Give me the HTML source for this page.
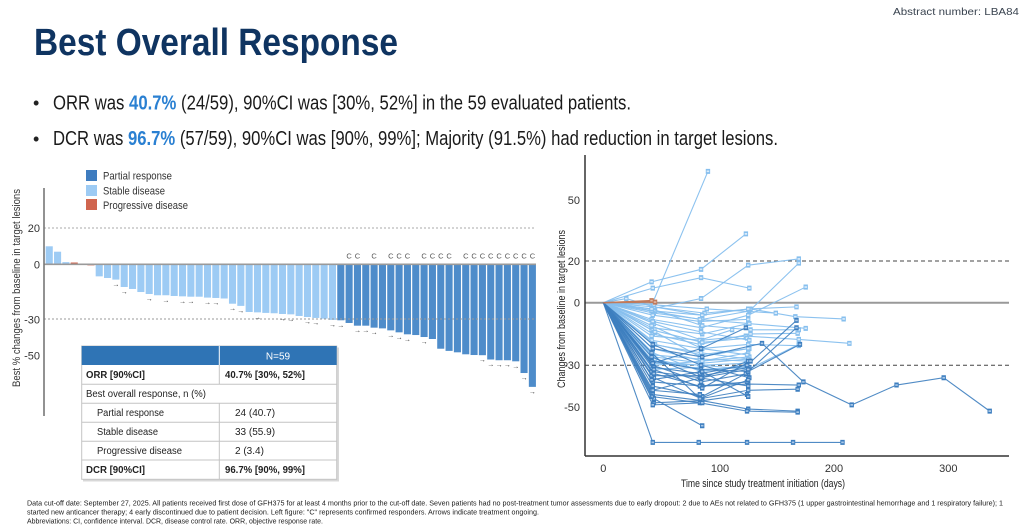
<!DOCTYPE html>
<html><head><meta charset="utf-8"><style>
body{margin:0;background:#fff}
svg{display:block}
text{font-family:"Liberation Sans",Arial,sans-serif}
</style></head><body>
<svg width="1024" height="531" viewBox="0 0 1024 531" xmlns="http://www.w3.org/2000/svg">
<defs>
<marker id="ml" markerUnits="userSpaceOnUse" markerWidth="1" markerHeight="1" refX="0" refY="0" overflow="visible"><rect x="-1.5" y="-0.8" width="3" height="1.6" fill="#dcecfb" stroke="#86bfee" stroke-width="0.8" vector-effect="non-scaling-stroke"/></marker>
<marker id="md" markerUnits="userSpaceOnUse" markerWidth="1" markerHeight="1" refX="0" refY="0" overflow="visible"><rect x="-1.5" y="-0.8" width="3" height="1.6" fill="#a9c8e8" stroke="#3d7ebf" stroke-width="0.8" vector-effect="non-scaling-stroke"/></marker>
<marker id="mo" markerUnits="userSpaceOnUse" markerWidth="1" markerHeight="1" refX="0" refY="0" overflow="visible"><rect x="-1.5" y="-0.8" width="3" height="1.6" fill="#e0b8a6" stroke="#c07a5a" stroke-width="0.8" vector-effect="non-scaling-stroke"/></marker>
</defs>

<!-- Header -->
<text x="1019" y="15" font-size="10.5" fill="#3a4450" text-anchor="end" textLength="126" lengthAdjust="spacingAndGlyphs">Abstract number: LBA84</text>
<text x="34" y="55" font-size="38" font-weight="bold" fill="#0f3461" textLength="364" lengthAdjust="spacingAndGlyphs">Best Overall Response</text>

<text x="33" y="109" font-size="18" fill="#222">•</text>
<text x="53" y="109.3" font-size="20" fill="#1a1a1a" textLength="578" lengthAdjust="spacingAndGlyphs">ORR was <tspan fill="#2a80d2" font-weight="bold">40.7%</tspan> (24/59), 90%CI was [30%, 52%] in the 59 evaluated patients.</text>
<text x="33" y="145" font-size="18" fill="#222">•</text>
<text x="53" y="145" font-size="20" fill="#1a1a1a" textLength="725" lengthAdjust="spacingAndGlyphs">DCR was <tspan fill="#2a80d2" font-weight="bold">96.7%</tspan> (57/59), 90%CI was [90%, 99%]; Majority (91.5%) had reduction in target lesions.</text>

<!-- ============ LEFT WATERFALL ============ -->
<!-- legend -->
<rect x="86" y="170" width="11" height="11" fill="#3e7cbf"/>
<rect x="86" y="185" width="11" height="11" fill="#9dcbf4"/>
<rect x="86" y="199" width="11" height="11" fill="#d0654f"/>
<text x="103" y="179.5" font-size="11" fill="#333" textLength="69" lengthAdjust="spacingAndGlyphs">Partial response</text>
<text x="103" y="194.5" font-size="11" fill="#333" textLength="62" lengthAdjust="spacingAndGlyphs">Stable disease</text>
<text x="103" y="209" font-size="11" fill="#333" textLength="85" lengthAdjust="spacingAndGlyphs">Progressive disease</text>

<!-- y title -->
<text transform="translate(20,288) rotate(-90)" font-size="11" fill="#333" text-anchor="middle" textLength="198" lengthAdjust="spacingAndGlyphs">Best % changes from baseline in target lesions</text>
<!-- y ticks -->
<g font-size="11" fill="#333" text-anchor="end">
<text x="40" y="232">20</text>
<text x="40" y="268.5">0</text>
<text x="40" y="323.5">-30</text>
<text x="40" y="359.5">-50</text>
</g>

<!-- bars -->
<g transform="translate(45.7,264.3) scale(8.33,-1.8)">
<g fill="#9dcbf4">
<rect x="0" y="0" width="0.85" height="10"/>
<rect x="1" y="0" width="0.85" height="7"/>
<rect x="2" y="0" width="0.85" height="1.2"/>
<rect x="6" y="-6.7" width="0.85" height="6.7"/>
<rect x="7" y="-7.6" width="0.85" height="7.6"/>
<rect x="8" y="-8.5" width="0.85" height="8.5"/>
<rect x="9" y="-12.6" width="0.85" height="12.6"/>
<rect x="10" y="-13.7" width="0.85" height="13.7"/>
<rect x="11" y="-15.4" width="0.85" height="15.4"/>
<rect x="12" y="-16.5" width="0.85" height="16.5"/>
<rect x="13" y="-17.2" width="0.85" height="17.2"/>
<rect x="14" y="-17.2" width="0.85" height="17.2"/>
<rect x="15" y="-17.6" width="0.85" height="17.6"/>
<rect x="16" y="-17.8" width="0.85" height="17.8"/>
<rect x="17" y="-18" width="0.85" height="18"/>
<rect x="18" y="-18" width="0.85" height="18"/>
<rect x="19" y="-18.5" width="0.85" height="18.5"/>
<rect x="20" y="-18.7" width="0.85" height="18.7"/>
<rect x="21" y="-19" width="0.85" height="19"/>
<rect x="22" y="-21.9" width="0.85" height="21.9"/>
<rect x="23" y="-23.1" width="0.85" height="23.1"/>
<rect x="24" y="-26.5" width="0.85" height="26.5"/>
<rect x="25" y="-26.7" width="0.85" height="26.7"/>
<rect x="26" y="-27" width="0.85" height="27"/>
<rect x="27" y="-27.2" width="0.85" height="27.2"/>
<rect x="28" y="-27.6" width="0.85" height="27.6"/>
<rect x="29" y="-27.8" width="0.85" height="27.8"/>
<rect x="30" y="-28.7" width="0.85" height="28.7"/>
<rect x="31" y="-29.3" width="0.85" height="29.3"/>
<rect x="32" y="-29.8" width="0.85" height="29.8"/>
<rect x="33" y="-30.2" width="0.85" height="30.2"/>
<rect x="34" y="-30.9" width="0.85" height="30.9"/>
</g>
<g fill="#d0654f">
<rect x="3" y="0" width="0.85" height="1"/>
<rect x="5" y="-0.6" width="0.85" height="0.6"/>
</g>
<g fill="#4e8cca">
<rect x="35" y="-31.1" width="0.85" height="31.1"/>
<rect x="36" y="-32.6" width="0.85" height="32.6"/>
<rect x="37" y="-34.1" width="0.85" height="34.1"/>
<rect x="38" y="-34.1" width="0.85" height="34.1"/>
<rect x="39" y="-35.2" width="0.85" height="35.2"/>
<rect x="40" y="-35.6" width="0.85" height="35.6"/>
<rect x="41" y="-36.7" width="0.85" height="36.7"/>
<rect x="42" y="-37.8" width="0.85" height="37.8"/>
<rect x="43" y="-38.9" width="0.85" height="38.9"/>
<rect x="44" y="-39.3" width="0.85" height="39.3"/>
<rect x="45" y="-40.4" width="0.85" height="40.4"/>
<rect x="46" y="-41.5" width="0.85" height="41.5"/>
<rect x="47" y="-46.9" width="0.85" height="46.9"/>
<rect x="48" y="-48.1" width="0.85" height="48.1"/>
<rect x="49" y="-48.9" width="0.85" height="48.9"/>
<rect x="50" y="-50" width="0.85" height="50"/>
<rect x="51" y="-50.4" width="0.85" height="50.4"/>
<rect x="52" y="-50.5" width="0.85" height="50.5"/>
<rect x="53" y="-52.9" width="0.85" height="52.9"/>
<rect x="54" y="-53.3" width="0.85" height="53.3"/>
<rect x="55" y="-53.3" width="0.85" height="53.3"/>
<rect x="56" y="-53.9" width="0.85" height="53.9"/>
<rect x="57" y="-60.4" width="0.85" height="60.4"/>
<rect x="58" y="-68.1" width="0.85" height="68.1"/>
</g>
</g>

<!-- reference lines -->
<line x1="44" y1="228" x2="536" y2="228" stroke="#aaa" stroke-width="1" stroke-dasharray="2,2"/>
<line x1="44" y1="319" x2="536" y2="319" stroke="#999" stroke-width="1" stroke-dasharray="2,2"/>
<line x1="44" y1="264.3" x2="536" y2="264.3" stroke="#9a9a9a" stroke-width="1.6"/>
<line x1="44" y1="188" x2="44" y2="416" stroke="#777" stroke-width="1.6"/>

<!-- C labels -->
<g font-size="7.5" fill="#555" text-anchor="middle">
<text x="349.1" y="258.5">C</text><text x="357.5" y="258.5">C</text>
<text x="374.1" y="258.5">C</text>
<text x="390.8" y="258.5">C</text><text x="399.1" y="258.5">C</text><text x="407.4" y="258.5">C</text>
<text x="424.1" y="258.5">C</text><text x="432.4" y="258.5">C</text><text x="440.8" y="258.5">C</text><text x="449.1" y="258.5">C</text>
<text x="465.8" y="258.5">C</text><text x="474.1" y="258.5">C</text><text x="482.4" y="258.5">C</text><text x="490.7" y="258.5">C</text><text x="499.1" y="258.5">C</text><text x="507.4" y="258.5">C</text><text x="515.7" y="258.5">C</text><text x="524.1" y="258.5">C</text><text x="532.4" y="258.5">C</text>
</g>

<!-- arrows -->
<g font-size="7" fill="#333" text-anchor="middle">
<text x="115.9" y="286.6">→</text>
<text x="124.2" y="294">→</text>
<text x="149.2" y="301">→</text>
<text x="165.9" y="302.3">→</text>
<text x="182.5" y="303.3">→</text>
<text x="190.9" y="303.7">→</text>
<text x="207.5" y="304.6">→</text>
<text x="215.9" y="305">→</text>
<text x="232.5" y="310.7">→</text>
<text x="240.8" y="312.9">→</text>
<text x="257.5" y="319.4">→</text>
<text x="282.5" y="321">→</text>
<text x="290.8" y="321.3">→</text>
<text x="307.5" y="324">→</text>
<text x="315.8" y="324.9">→</text>
<text x="332.5" y="326.9">→</text>
<text x="340.8" y="327.3">→</text>
<text x="357.5" y="332.7">→</text>
<text x="365.8" y="332.7">→</text>
<text x="374.1" y="334.7">→</text>
<text x="390.8" y="337.4">→</text>
<text x="399.1" y="339.3">→</text>
<text x="407.4" y="341.3">→</text>
<text x="424.1" y="344">→</text>
<text x="482.4" y="362.2">→</text>
<text x="490.7" y="366.5">→</text>
<text x="499.1" y="367.2">→</text>
<text x="507.4" y="367.2">→</text>
<text x="515.7" y="368.3">→</text>
<text x="524.1" y="380">→</text>
<text x="532.4" y="393.9">→</text>
</g>

<!-- table -->
<rect x="83" y="347.5" width="256" height="134" fill="#d8d8d8"/>
<rect x="81.7" y="346" width="255" height="133.3" fill="#fff" stroke="#c4c4c4" stroke-width="1"/>
<rect x="81.7" y="346" width="255" height="19" fill="#2f74b5"/>
<line x1="219.3" y1="346" x2="219.3" y2="365" stroke="#fff" stroke-width="1"/>
<g stroke="#c4c4c4" stroke-width="1">
<line x1="81.7" y1="384.3" x2="336.7" y2="384.3"/>
<line x1="81.7" y1="403.3" x2="336.7" y2="403.3"/>
<line x1="81.7" y1="422.3" x2="336.7" y2="422.3"/>
<line x1="81.7" y1="441.3" x2="336.7" y2="441.3"/>
<line x1="81.7" y1="460" x2="336.7" y2="460"/>
<line x1="219.3" y1="365" x2="219.3" y2="384.3"/>
<line x1="219.3" y1="403.3" x2="219.3" y2="479.3"/>
</g>
<g font-size="10" fill="#222">
<text x="278" y="359.5" fill="#fff" text-anchor="middle">N=59</text>
<text x="86" y="378" font-weight="bold" textLength="59" lengthAdjust="spacingAndGlyphs">ORR [90%CI]</text>
<text x="225" y="378" font-weight="bold" textLength="80" lengthAdjust="spacingAndGlyphs">40.7% [30%, 52%]</text>
<text x="86" y="397" textLength="120" lengthAdjust="spacingAndGlyphs">Best overall response, n (%)</text>
<text x="97" y="416" textLength="67" lengthAdjust="spacingAndGlyphs">Partial response</text>
<text x="235" y="416">24 (40.7)</text>
<text x="97" y="435" textLength="61" lengthAdjust="spacingAndGlyphs">Stable disease</text>
<text x="235" y="435">33 (55.9)</text>
<text x="97" y="454" textLength="85" lengthAdjust="spacingAndGlyphs">Progressive disease</text>
<text x="235" y="454">2 (3.4)</text>
<text x="86" y="473" font-weight="bold" textLength="59" lengthAdjust="spacingAndGlyphs">DCR [90%CI]</text>
<text x="225" y="473" font-weight="bold" textLength="80" lengthAdjust="spacingAndGlyphs">96.7% [90%, 99%]</text>
</g>

<!-- ============ RIGHT SPIDER ============ -->
<line x1="585" y1="261" x2="1009" y2="261" stroke="#444" stroke-width="1" stroke-dasharray="4,3"/>
<line x1="585" y1="365.2" x2="1009" y2="365.2" stroke="#444" stroke-width="1" stroke-dasharray="4,3"/>
<line x1="585" y1="302.7" x2="1009" y2="302.7" stroke="#999" stroke-width="2"/>

<g transform="translate(603.3,302.7) scale(1.15,-2.085)" fill="none">
<g stroke="#86bfee" stroke-width="1.1" vector-effect="non-scaling-stroke" marker-mid="url(#ml)" marker-end="url(#ml)" stroke-opacity="0.95">
<polyline vector-effect="non-scaling-stroke" points="0,0 43,0 91,63"/>
<polyline vector-effect="non-scaling-stroke" points="0,0 42,10 85,16 124,33"/>
<polyline vector-effect="non-scaling-stroke" points="0,0 43,7 85,12 127,7"/>
<polyline vector-effect="non-scaling-stroke" points="0,0 20,2 44,-2 86,-6"/>
<polyline vector-effect="non-scaling-stroke" points="0,0 42,-3 85,2 126,18 170,21"/>
<polyline vector-effect="non-scaling-stroke" points="0,0 44,-5 86,-8 127,-4 170,19"/>
<polyline vector-effect="non-scaling-stroke" points="0,0 42,-8 85,-12 126,-6 176,7.5"/>
<polyline vector-effect="non-scaling-stroke" points="0,0 44,-2 88,-5 128,-3 167,-6.7 209,-7.8"/>
<polyline vector-effect="non-scaling-stroke" points="0,0 42,-12 86,-15 126,-10 176,-12.3"/>
<polyline vector-effect="non-scaling-stroke" points="0,0 43,-15 84,-20 128,-15 169,-14.7"/>
<polyline vector-effect="non-scaling-stroke" points="0,0 44,-10 86,-18 124,-16 170,-17.6 214,-19.5"/>
<polyline vector-effect="non-scaling-stroke" points="0,0 42,-18 85,-22 126,-20 170,-20.6"/>
<polyline vector-effect="non-scaling-stroke" points="0,0 45,-20 85,-25 127,-22"/>
<polyline vector-effect="non-scaling-stroke" points="0,0 43,-22 86,-28 126,-24"/>
<polyline vector-effect="non-scaling-stroke" points="0,0 42,-25 84,-27 125,-28"/>
<polyline vector-effect="non-scaling-stroke" points="0,0 44,-26 86,-29 126,-27"/>
<polyline vector-effect="non-scaling-stroke" points="0,0 43,-28 85,-30 124,-29"/>
<polyline vector-effect="non-scaling-stroke" points="0,0 42,-16 84,-18 112,-13"/>
<polyline vector-effect="non-scaling-stroke" points="0,0 43,-6 84,-9 126,-8"/>
<polyline vector-effect="non-scaling-stroke" points="0,0 45,-4 86,-6 126,-3 168,-2"/>
<polyline vector-effect="non-scaling-stroke" points="0,0 42,-13 86,-19 125,-17"/>
<polyline vector-effect="non-scaling-stroke" points="0,0 44,-30 86,-28 127,-26"/>
<polyline vector-effect="non-scaling-stroke" points="0,0 42,-32 84,-31"/>
<polyline vector-effect="non-scaling-stroke" points="0,0 45,-27 84,-32 126,-31"/>
<polyline vector-effect="non-scaling-stroke" points="0,0 43,-20 85,-24 126,-27"/>
<polyline vector-effect="non-scaling-stroke" points="0,0 42,-4 84,-8 127,-10"/>
<polyline vector-effect="non-scaling-stroke" points="0,0 44,-1 90,-3 150,-5"/>
<polyline vector-effect="non-scaling-stroke" points="0,0 43,-9 85,-14 127,-18"/>
<polyline vector-effect="non-scaling-stroke" points="0,0 42,-11 86,-22 125,-25"/>
<polyline vector-effect="non-scaling-stroke" points="0,0 43,-24 85,-33 124,-30"/>
<polyline vector-effect="non-scaling-stroke" points="0,0 42,-3 86,-11 128,-13 170,-13"/>
<polyline vector-effect="non-scaling-stroke" points="0,0 45,-14 84,-26 126,-22"/>
<polyline vector-effect="non-scaling-stroke" points="0,0 42,-29 86,-30 126,-32 170,-20"/>
</g>
<g stroke="#3d7ebf" stroke-width="1.1" marker-mid="url(#md)" marker-end="url(#md)" stroke-opacity="0.9">
<polyline vector-effect="non-scaling-stroke" points="0,0 43,-67 83,-67 125,-67 165,-67 208,-67"/>
<polyline vector-effect="non-scaling-stroke" points="0,0 44,-46 86,-59"/>
<polyline vector-effect="non-scaling-stroke" points="0,0 43,-44 86,-47 126,-51 169,-52"/>
<polyline vector-effect="non-scaling-stroke" points="0,0 42,-45 84,-48 125,-52 169,-52.5"/>
<polyline vector-effect="non-scaling-stroke" points="0,0 44,-36 85,-46 126,-42 169,-41.5"/>
<polyline vector-effect="non-scaling-stroke" points="0,0 43,-38 86,-40 126,-39 170,-39.5"/>
<polyline vector-effect="non-scaling-stroke" points="0,0 42,-33 84,-36 126,-40"/>
<polyline vector-effect="non-scaling-stroke" points="0,0 43,-30 85,-38 126,-34"/>
<polyline vector-effect="non-scaling-stroke" points="0,0 42,-35 86,-35 127,-31"/>
<polyline vector-effect="non-scaling-stroke" points="0,0 44,-31 84,-34 125,-30 168,-8.5"/>
<polyline vector-effect="non-scaling-stroke" points="0,0 43,-40 86,-45 124,-34 168,-12"/>
<polyline vector-effect="non-scaling-stroke" points="0,0 42,-28 85,-32 126,-33 171,-20"/>
<polyline vector-effect="non-scaling-stroke" points="0,0 43,-22 86,-26 138,-19.5 174,-38 216,-49 255,-39.5 296,-36 336,-52"/>
<polyline vector-effect="non-scaling-stroke" points="0,0 42,-42 84,-44"/>
<polyline vector-effect="non-scaling-stroke" points="0,0 44,-48 86,-47 125,-44"/>
<polyline vector-effect="non-scaling-stroke" points="0,0 43,-49 86,-48"/>
<polyline vector-effect="non-scaling-stroke" points="0,0 42,-26 86,-36 126,-28"/>
<polyline vector-effect="non-scaling-stroke" points="0,0 43,-20 85,-30 127,-36"/>
<polyline vector-effect="non-scaling-stroke" points="0,0 44,-34 84,-40 125,-38"/>
<polyline vector-effect="non-scaling-stroke" points="0,0 42,-37 86,-33 126,-45"/>
<polyline vector-effect="non-scaling-stroke" points="0,0 43,-29 85,-22 124,-12"/>
<polyline vector-effect="non-scaling-stroke" points="0,0 42,-24 84,-46 126,-37"/>
<polyline vector-effect="non-scaling-stroke" points="0,0 43,-42 85,-36 126,-32"/>
<polyline vector-effect="non-scaling-stroke" points="0,0 44,-32 86,-41 128,-28"/>
</g>
<g stroke="#c07a5a" stroke-width="1.4" marker-end="url(#mo)">
<polyline vector-effect="non-scaling-stroke" points="0,0 42,1"/>
<polyline vector-effect="non-scaling-stroke" points="0,0 45,0.3"/>
</g>
</g>

<!-- axes -->
<line x1="585" y1="155" x2="585" y2="456" stroke="#333" stroke-width="1.5"/>
<line x1="585" y1="456" x2="1009" y2="456" stroke="#333" stroke-width="1.5"/>
<g font-size="11" fill="#333" text-anchor="end">
<text x="580" y="204">50</text>
<text x="580" y="265">20</text>
<text x="580" y="306.7">0</text>
<text x="580" y="369.2">-30</text>
<text x="580" y="411">-50</text>
</g>
<g font-size="11" fill="#333" text-anchor="middle">
<text x="603.3" y="472">0</text>
<text x="720" y="472">100</text>
<text x="834" y="472">200</text>
<text x="948.3" y="472">300</text>
</g>
<text x="763" y="487" font-size="11" fill="#222" text-anchor="middle" textLength="164" lengthAdjust="spacingAndGlyphs">Time since study treatment initiation (days)</text>
<text transform="translate(565,309) rotate(-90)" font-size="11" fill="#222" text-anchor="middle" textLength="158" lengthAdjust="spacingAndGlyphs">Changes from baseline in target lesions</text>

<!-- footer -->
<g font-size="7" fill="#222">
<text x="27" y="505.5" textLength="976" lengthAdjust="spacingAndGlyphs">Data cut-off date: September 27, 2025. All patients received first dose of GFH375 for at least 4 months prior to the cut-off date. Seven patients had no post-treatment tumor assessments due to early dropout: 2 due to AEs not related to GFH375 (1 upper gastrointestinal hemorrhage and 1 respiratory failure); 1</text>
<text x="27" y="514.5" textLength="512" lengthAdjust="spacingAndGlyphs">started new anticancer therapy; 4 early discontinued due to patient decision. Left figure: "C" represents confirmed responders. Arrows indicate treatment ongoing.</text>
<text x="27" y="523.5" textLength="296" lengthAdjust="spacingAndGlyphs">Abbreviations: CI, confidence interval. DCR, disease control rate. ORR, objective response rate.</text>
</g>
</svg>
</body></html>
